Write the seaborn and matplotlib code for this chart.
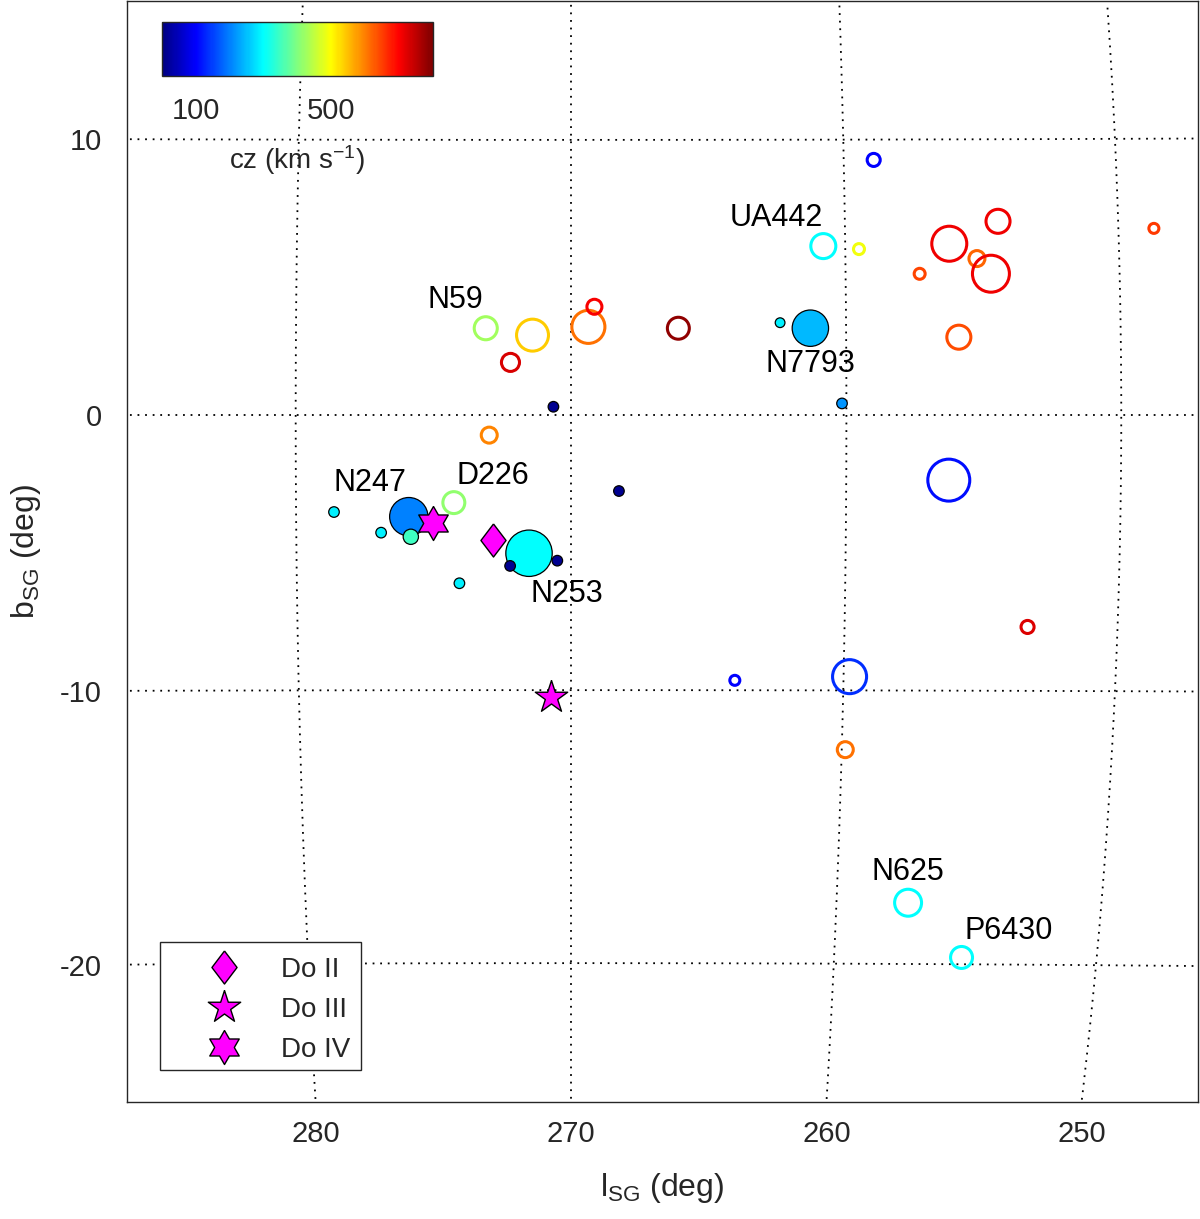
import numpy as np
import pandas as pd
import matplotlib
matplotlib.use("Agg")
import matplotlib.pyplot as plt
import seaborn as sns
from matplotlib.lines import Line2D
from matplotlib.patches import Rectangle
from matplotlib.colors import Normalize, ListedColormap
from matplotlib.cm import ScalarMappable

# ---------------- data ----------------
# hollow circles (background galaxies)
open_names = ["N59", "", "", "", "", "", "UA442", "", "", "", "", "", "", "", "",
              "", "", "", "D226", "", "", "", "", "N625", "P6430"]
open_l = [273.1, 271.4, 272.2, 269.37, 269.15, 266.1, 260.8, 259.5, 258.9, 256.2,
          254.4, 255.2, 254.7, 257.3, 248.7, 255.9, 272.97, 256.27, 274.26, 253.3,
          263.99, 259.78, 259.87, 257.3, 255.15]
open_b = [3.15, 2.90, 1.91, 3.20, 3.93, 3.15, 6.13, 6.02, 9.26, 6.21,
          7.02, 5.67, 5.12, 5.12, 6.75, 2.82, -0.73, -2.36, -3.18, -7.68,
          -9.64, -9.50, -12.16, -17.75, -19.75]
open_cz = [425, 540, 730, 610, 705, 785, 300, 490, 100, 712,
           712, 620, 712, 645, 655, 640, 595, 112, 415, 728,
           100, 135, 612, 300, 300]
open_size = [16.6, 23.0, 13.0, 23.8, 10.8, 15.8, 18.0, 7.9, 9.4, 25.2,
             17.3, 11.5, 26.6, 7.9, 7.2, 17.3, 11.5, 30.2, 15.8, 9.4,
             7.2, 24.5, 11.5, 19.4, 15.8]

# filled circles (group members)
filled_names = ["", "N7793", "", "", "", "", "N247", "", "", "N253", "", "", ""]
filled_l = [262.4, 261.3, 270.64, 260.16, 268.26, 278.62, 275.9, 276.91, 275.83,
            271.53, 272.22, 270.5, 274.07]
filled_b = [3.35, 3.15, 0.30, 0.42, -2.76, -3.52, -3.69, -4.27, -4.42,
            -5.02, -5.48, -5.29, -6.11]
filled_cz = [290, 245, 15, 218, 15, 290, 202, 290, 348, 300, 15, 15, 290]
filled_size = [7.0, 26.2, 7.6, 7.6, 7.6, 7.6, 27.6, 7.6, 11.0, 33.4, 7.6, 7.6, 7.6]

# dwarf candidates
do_names = ["Do II", "Do III", "Do IV"]
do_l = [272.83, 270.72, 275.01]
do_b = [-4.54, -10.26, -3.93]

grid_l = [280, 270, 260, 250]
grid_b = [10, 0, -10, -20]

# label offsets (points) relative to the marker
label_offsets = {"N59": (-22, 20), "UA442": (-34, 20), "N7793": (0, -26),
                 "N247": (-28, 24), "D226": (28, 19.5), "N253": (27, -29.5),
                 "N625": (0, 22), "P6430": (34, 19)}

L0 = 270.0

# MATLAB-style jet colormap
_t = np.linspace(0, 1, 256)
_r = np.clip(np.minimum(4 * _t - 1.5, -4 * _t + 4.5), 0, 1)
_g = np.clip(np.minimum(4 * _t - 0.5, -4 * _t + 3.5), 0, 1)
_b = np.clip(np.minimum(4 * _t + 0.5, -4 * _t + 2.5), 0, 1)
JET = ListedColormap(np.column_stack([_r, _g, _b]), name="mjet")


def hammer(l, b):
    lam = np.radians(np.asarray(l, float) - L0)
    phi = np.radians(np.asarray(b, float))
    den = np.sqrt(1 + np.cos(phi) * np.cos(lam / 2))
    x = 2 * np.sqrt(2) * np.cos(phi) * np.sin(lam / 2) / den
    y = np.sqrt(2) * np.sin(phi) / den
    return np.degrees(x), np.degrees(y)


# ---------------- style ----------------
sns.set_style("white")
plt.rcParams["font.family"] = ["Liberation Sans", "DejaVu Sans"]
plt.rcParams["mathtext.fontset"] = "custom"
plt.rcParams["mathtext.rm"] = "Liberation Sans"
plt.rcParams["mathtext.it"] = "Liberation Sans:italic"
plt.rcParams["mathtext.default"] = "regular"
DARK = "#262626"

fig = plt.figure(figsize=(12, 12.19), dpi=100)
ax = fig.add_axes([127 / 1200, 1 - 1102 / 1219, 1071 / 1200, 1101 / 1219])

XL, XR = 16.12, -22.76
YT, YB = 15.03, -24.94
ax.set_xlim(XL, XR)
ax.set_ylim(YB, YT)

# ---------------- graticule ----------------
gls = (0, (1, 3.2))
bb = np.linspace(-40, 30, 400)
for lv in grid_l:
    gx, gy = hammer(np.full_like(bb, lv), bb)
    ax.plot(gx, gy, color="black", lw=1.3, ls=gls, zorder=1)
ll = np.linspace(230, 300, 400)
for bv in grid_b:
    gx, gy = hammer(ll, np.full_like(ll, bv))
    ax.plot(gx, gy, color="black", lw=1.3, ls=gls, zorder=1)

xt = []
for lv in grid_l:
    gx, gy = hammer(np.full_like(bb, lv), bb)
    xt.append(np.interp(YB, gy, gx))
yt = []
for bv in grid_b:
    gx, gy = hammer(ll, np.full_like(ll, bv))
    yt.append(np.interp(XL, gx, gy))
ax.set_xticks(xt, labels=[str(v) for v in grid_l])
ax.set_yticks(yt, labels=[str(v) for v in grid_b])
ax.tick_params(axis="x", direction="in", length=3, width=1, colors=DARK,
               labelsize=21, pad=13, top=False)
ax.tick_params(axis="y", direction="in", length=3, width=1, colors=DARK,
               labelsize=21, pad=18, right=False)
for sp in ax.spines.values():
    sp.set_color(DARK)
    sp.set_linewidth(1.0)

# ---------------- points ----------------
ox, oy = hammer(open_l, open_b)
df_open = pd.DataFrame({"X": ox, "Y": oy, "cz": open_cz, "size": open_size})
sns.scatterplot(data=df_open, x="X", y="Y", hue="cz", palette=JET,
                hue_norm=(0, 800), s=np.array(open_size) ** 2, marker="o",
                linewidth=0, legend=False, ax=ax, zorder=2)
coll = ax.collections[-1]
fc = coll.get_facecolors()
coll.set_facecolors("none")
coll.set_edgecolors(fc)
coll.set_linewidths(2.2)

fx, fy = hammer(filled_l, filled_b)
df_fill = pd.DataFrame({"X": fx, "Y": fy, "cz": filled_cz, "size": filled_size})
df_fill = df_fill.sort_values("size", ascending=False)
sns.scatterplot(data=df_fill, x="X", y="Y", hue="cz", palette=JET,
                hue_norm=(0, 800), s=df_fill["size"].values ** 2, marker="o",
                edgecolor="black", linewidth=0.9, legend=False, ax=ax, zorder=3)

diamond = [(0, 1), (0.76, 0), (0, -1), (-0.76, 0), (0, 1)]


def star_verts(n, inner):
    pts = []
    for i in range(2 * n):
        ang = np.pi / 2 + i * np.pi / n
        r = 1.0 if i % 2 == 0 else inner
        pts.append((r * np.cos(ang), r * np.sin(ang)))
    pts.append(pts[0])
    return pts


pentagram = star_verts(5, 0.382)
hexagram = star_verts(6, 0.577)
do_markers = [diamond, pentagram, hexagram]
do_ms = [23.8, 24.5, 24.5]
dx, dy = hammer(do_l, do_b)
for i in range(3):
    sns.scatterplot(x=[dx[i]], y=[dy[i]], marker=do_markers[i], s=do_ms[i] ** 2,
                    color="#ff00ff", edgecolor="black", linewidth=1.0,
                    legend=False, ax=ax, zorder=4)

# ---------------- labels ----------------
for names, xs, ys in [(open_names, ox, oy), (filled_names, fx, fy)]:
    for n, x, y in zip(names, xs, ys):
        if n:
            ax.annotate(n, xy=(x, y), xytext=label_offsets[n],
                        textcoords="offset points", ha="center", va="center",
                        fontsize=22, color="black", zorder=5)

ax.set_xlabel("l$_{SG}$ (deg)", fontsize=23, color=DARK)
ax.set_ylabel("b$_{SG}$ (deg)", fontsize=23, color=DARK)
ax.xaxis.set_label_coords(0.5, -0.063)
ax.yaxis.set_label_coords(-0.078, 0.5)

# ---------------- legend ----------------
frame = Rectangle((33 / 1071, 32 / 1101), 201 / 1071, 128 / 1101,
                  transform=ax.transAxes, facecolor="white", edgecolor=DARK,
                  linewidth=1.0, zorder=4.5)
ax.add_patch(frame)
handles = [Line2D([], [], ls="none", marker=m, markersize=s, markerfacecolor="#ff00ff",
                  markeredgecolor="black", markeredgewidth=1.0)
           for m, s in zip(do_markers, do_ms)]
leg = ax.legend(handles, do_names, loc="lower left", bbox_to_anchor=(0.030, 0.0245),
                fontsize=20, frameon=False, borderpad=0.45, handlelength=3.8,
                handletextpad=0.15, labelspacing=0.5, borderaxespad=0)
leg.set_zorder(6)

# ---------------- colorbar ----------------
cax = fig.add_axes([161.7 / 1200, 1 - 76 / 1219, 271 / 1200, 54.3 / 1219])
sm = ScalarMappable(norm=Normalize(0, 800), cmap=JET)
cb = fig.colorbar(sm, cax=cax, orientation="horizontal", ticks=[100, 500])
cb.outline.set_edgecolor(DARK)
cb.outline.set_linewidth(1.0)
cax.tick_params(axis="x", direction="in", length=8, width=1, colors=DARK,
                labelsize=21, pad=15, bottom=True, top=False)
cax.set_xlabel("cz (km s$^{-1}$)", fontsize=20, color=DARK, labelpad=13)

fig.savefig("out.png", dpi=100)
